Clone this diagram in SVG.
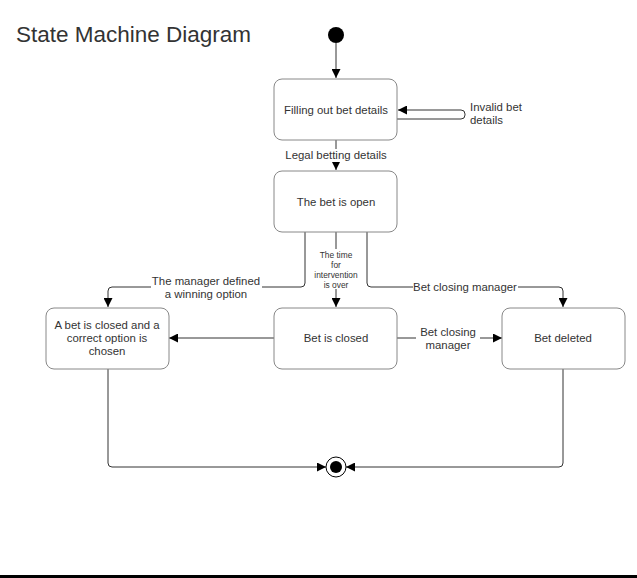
<svg xmlns="http://www.w3.org/2000/svg" width="637" height="578" viewBox="0 0 637 578">
<defs>
<marker id="arr" viewBox="0 0 10 10" refX="10" refY="5" markerWidth="9" markerHeight="9" markerUnits="userSpaceOnUse" orient="auto">
<path d="M0,0 L10,5 L0,10 z" fill="#000"/>
</marker>
</defs>
<style>
.box{fill:#fff;stroke:#888;stroke-width:1}
.t{font-family:"Liberation Sans",Arial,sans-serif;font-size:11.4px;fill:#333;text-anchor:middle}
.s{font-family:"Liberation Sans",Arial,sans-serif;font-size:8.4px;fill:#333;text-anchor:middle}
.c{fill:none;stroke:#333;stroke-width:1}
.lbl{fill:#fff}
</style>
<rect width="637" height="578" fill="#fff"/>
<text x="16" y="42" style="font-family:'Liberation Sans',Arial,sans-serif;font-size:22.5px;fill:#333">State Machine Diagram</text>
<rect x="0" y="575" width="637" height="3" fill="#000"/>

<g id="connectors">
<path class="c" d="M336,43 L336,78" marker-end="url(#arr)"/>
<path class="c" d="M397,119 L461,119 Q465,119 465,115 L465,114 Q465,110 461,110 L398,110" marker-end="url(#arr)"/>
<path class="c" d="M336,140 L336,170" marker-end="url(#arr)"/>
<path class="c" d="M305,232 L305,283 Q305,287 301,287 L112,287 Q108,287 108,291 L108,307" marker-end="url(#arr)"/>
<path class="c" d="M336,232 L336,307" marker-end="url(#arr)"/>
<path class="c" d="M367,232 L367,283 Q367,287 371,287 L559,287 Q563,287 563,291 L563,307" marker-end="url(#arr)"/>
<path class="c" d="M274,338 L169,338" marker-end="url(#arr)"/>
<path class="c" d="M397,338 L502,338" marker-end="url(#arr)"/>
<path class="c" d="M108,369 L108,463 Q108,467 112,467 L326,467" marker-end="url(#arr)"/>
<path class="c" d="M563,369 L563,463 Q563,467 559,467 L346,467" marker-end="url(#arr)"/>
<rect class="lbl" x="281" y="149" width="110" height="13"/>
<text class="t" x="336" y="159">Legal betting details</text>
<text class="t" x="470" y="111" style="text-anchor:start">Invalid bet</text>
<text class="t" x="470" y="124" style="text-anchor:start">details</text>
<rect class="lbl" x="151" y="275" width="111" height="25"/>
<text class="t" x="206" y="285">The manager defined</text>
<text class="t" x="206" y="298">a winning option</text>
<rect class="lbl" x="309" y="249" width="54" height="40"/>
<text class="s" x="336" y="258">The time</text>
<text class="s" x="336" y="268">for</text>
<text class="s" x="336" y="278">intervention</text>
<text class="s" x="336" y="288">is over</text>
<rect class="lbl" x="413" y="281" width="105" height="12"/>
<text class="t" x="465" y="291">Bet closing manager</text>
<rect class="lbl" x="416" y="326" width="64" height="25"/>
<text class="t" x="448" y="336">Bet closing</text>
<text class="t" x="448" y="349">manager</text>
</g>

<g id="initial"><circle cx="336" cy="35" r="8" fill="#000"/></g>
<g id="final"><circle cx="336" cy="467" r="10" fill="#fff" stroke="#000" stroke-width="1"/><circle cx="336" cy="467" r="6" fill="#000"/></g>

<g id="filling"><rect class="box" x="274" y="79" width="123" height="61" rx="8"/><text class="t" x="336" y="114">Filling out bet details</text></g>
<g id="open"><rect class="box" x="274" y="171" width="123" height="61" rx="8"/><text class="t" x="336" y="206">The bet is open</text></g>
<g id="chosen"><rect class="box" x="46" y="308" width="123" height="61" rx="8"/><text class="t" x="107" y="329">A bet is closed and a</text><text class="t" x="107" y="342">correct option is</text><text class="t" x="107" y="355">chosen</text></g>
<g id="closed"><rect class="box" x="274" y="308" width="123" height="61" rx="8"/><text class="t" x="336" y="342">Bet is closed</text></g>
<g id="deleted"><rect class="box" x="502" y="308" width="123" height="61" rx="8"/><text class="t" x="563" y="342">Bet deleted</text></g>
</svg>
